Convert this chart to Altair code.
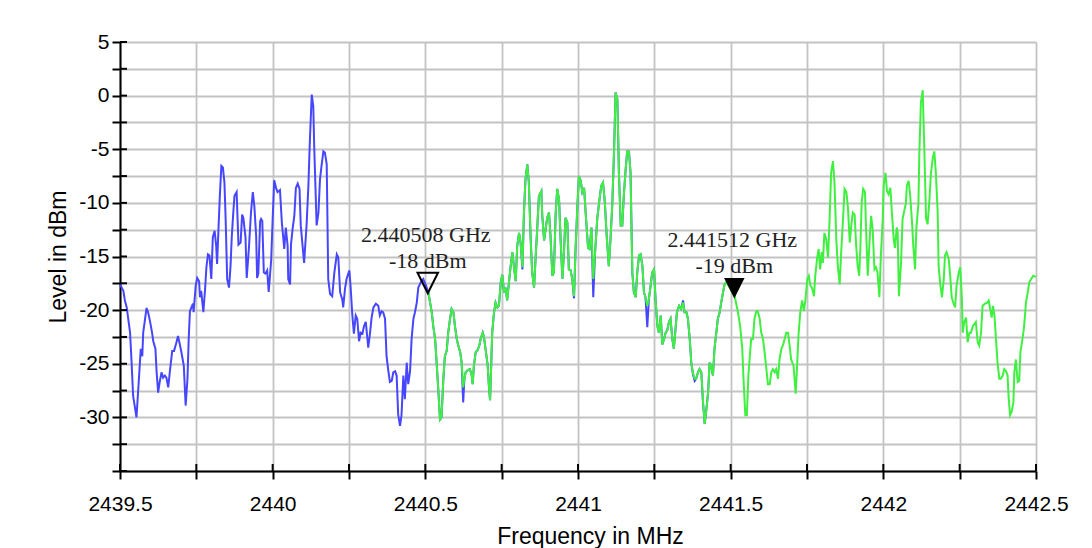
import altair as alt
import pandas as pd

# ---------------- data ----------------
blue_only_freq = [
    2439.500, 2439.511, 2439.516, 2439.522, 2439.533, 2439.538, 2439.543, 2439.554, 2439.562, 2439.568,
    2439.573, 2439.576, 2439.587, 2439.592, 2439.598, 2439.605, 2439.609, 2439.616, 2439.620, 2439.625,
    2439.630, 2439.636, 2439.641, 2439.647, 2439.652, 2439.658, 2439.663, 2439.671, 2439.677, 2439.685,
    2439.690, 2439.696, 2439.701, 2439.709, 2439.715, 2439.721, 2439.725, 2439.729, 2439.736, 2439.739,
    2439.741, 2439.748, 2439.753, 2439.759, 2439.762, 2439.766, 2439.773, 2439.779, 2439.783, 2439.788,
    2439.793, 2439.799, 2439.804, 2439.810, 2439.815, 2439.818, 2439.823, 2439.827, 2439.832, 2439.837,
    2439.842, 2439.846, 2439.851, 2439.857, 2439.862, 2439.866, 2439.871, 2439.875, 2439.882, 2439.888,
    2439.895, 2439.900, 2439.904, 2439.911, 2439.915, 2439.922, 2439.929, 2439.935, 2439.940, 2439.946,
    2439.949, 2439.953, 2439.959, 2439.962, 2439.966, 2439.971, 2439.976, 2439.982, 2439.987, 2439.995,
    2440.000, 2440.005, 2440.011, 2440.016, 2440.024, 2440.030, 2440.038, 2440.043, 2440.049, 2440.051,
    2440.057, 2440.060, 2440.065, 2440.071, 2440.076, 2440.082, 2440.088, 2440.092, 2440.103, 2440.111,
    2440.117, 2440.122, 2440.128, 2440.133, 2440.136, 2440.144, 2440.150, 2440.155, 2440.160, 2440.166,
    2440.171, 2440.177, 2440.182, 2440.188, 2440.195, 2440.202, 2440.210, 2440.215, 2440.221, 2440.228,
    2440.231, 2440.237, 2440.242, 2440.251, 2440.255, 2440.261, 2440.266, 2440.272, 2440.277, 2440.283,
    2440.288, 2440.294, 2440.299, 2440.305, 2440.313, 2440.319, 2440.324, 2440.330, 2440.338, 2440.346,
    2440.351, 2440.357, 2440.362, 2440.368, 2440.373, 2440.379, 2440.384, 2440.390, 2440.395, 2440.401,
    2440.406, 2440.411, 2440.417, 2440.422, 2440.428, 2440.433, 2440.439, 2440.444, 2440.450, 2440.455,
    2440.461, 2440.466, 2440.472, 2440.477, 2440.485, 2440.493, 2440.502,
]
blue_only_level = [
    -17.6, -18.2, -19.1, -19.75, -22.1, -24.9, -28.0, -30.0, -26.4, -23.6,
    -24.3, -22.1, -19.8, -20.2, -21.0, -22.1, -22.9, -23.6, -25.8, -27.7,
    -26.7, -25.8, -26.3, -26.1, -26.3, -27.2, -25.8, -23.8, -23.8, -23.0,
    -22.4, -23.2, -23.9, -25.2, -28.9, -26.4, -22.7, -20.1, -19.6, -19.4,
    -20.2, -17.7, -17.0, -17.3, -18.8, -18.2, -20.2, -17.9, -16.0, -14.8,
    -14.9, -17.1, -13.2, -12.6, -14.0, -15.7, -12.1, -9.35, -6.55, -6.7,
    -8.1, -11.5, -17.1, -17.9, -15.9, -13.2, -10.9, -9.35, -9.0, -13.9,
    -13.7, -11.1, -11.4, -13.2, -17.0, -14.3, -10.9, -9.0, -10.3, -13.1,
    -17.0, -16.6, -11.7, -11.5, -11.7, -16.5, -16.6, -16.3, -18.3, -15.4,
    -11.5, -7.9, -8.6, -9.0, -8.8, -11.8, -14.3, -12.3, -14.0, -17.1,
    -17.6, -13.9, -12.5, -11.2, -8.6, -8.2, -8.7, -12.1, -15.6, -12.1,
    -8.4, -4.1, 0.1, -1.0, -4.7, -12.1, -10.9, -7.8, -6.55, -5.2,
    -5.3, -6.4, -17.1, -18.5, -18.7, -16.5, -14.8, -15.1, -18.35, -19.0,
    -19.75, -18.0, -17.1, -16.3, -17.7, -20.5, -22.2, -20.5, -20.8, -22.9,
    -22.1, -22.2, -21.5, -21.1, -23.5, -22.1, -20.7, -19.75, -19.4, -19.6,
    -20.5, -20.1, -20.2, -20.8, -24.3, -25.7, -26.7, -26.6, -25.8, -25.7,
    -26.1, -29.7, -30.8, -29.8, -26.1, -28.3, -24.9, -26.9, -25.7, -22.7,
    -20.8, -20.2, -19.3, -17.9, -17.4, -17.1, -17.7,
]

overlap_freq = [
    2440.510, 2440.521, 2440.526, 2440.532, 2440.537, 2440.543, 2440.548, 2440.553, 2440.559, 2440.564,
    2440.570, 2440.575, 2440.581, 2440.586, 2440.592, 2440.597, 2440.603, 2440.608, 2440.614, 2440.619,
    2440.624, 2440.628, 2440.632, 2440.639, 2440.646, 2440.652, 2440.655, 2440.659, 2440.665, 2440.670,
    2440.677, 2440.681, 2440.688, 2440.692, 2440.698, 2440.704, 2440.708, 2440.712, 2440.716, 2440.719,
    2440.725, 2440.730, 2440.736, 2440.741, 2440.747, 2440.752, 2440.758, 2440.763, 2440.768, 2440.774,
    2440.779, 2440.785, 2440.790, 2440.796, 2440.801, 2440.807, 2440.812, 2440.818, 2440.823, 2440.828,
    2440.834, 2440.839, 2440.845, 2440.850, 2440.856, 2440.861, 2440.867, 2440.872, 2440.880, 2440.883,
    2440.889, 2440.894, 2440.899, 2440.905, 2440.910, 2440.916, 2440.921, 2440.927, 2440.932, 2440.938,
    2440.943, 2440.949, 2440.954, 2440.959, 2440.965, 2440.970, 2440.976, 2440.981, 2440.987, 2440.992,
    2440.998, 2441.003, 2441.009, 2441.014, 2441.020, 2441.025, 2441.033, 2441.038, 2441.044, 2441.050,
    2441.056, 2441.063, 2441.069, 2441.076, 2441.082, 2441.088, 2441.094, 2441.101, 2441.107, 2441.112,
    2441.118, 2441.123, 2441.129, 2441.134, 2441.140, 2441.145, 2441.150, 2441.156, 2441.161, 2441.167,
    2441.172, 2441.178, 2441.183, 2441.189, 2441.194, 2441.200, 2441.205, 2441.211, 2441.216, 2441.221,
    2441.227, 2441.232, 2441.238, 2441.243, 2441.249, 2441.254, 2441.260, 2441.265, 2441.271, 2441.276,
    2441.282, 2441.287, 2441.292, 2441.298, 2441.303, 2441.309, 2441.314, 2441.324, 2441.331, 2441.338,
    2441.344, 2441.349, 2441.355, 2441.360, 2441.366, 2441.371, 2441.376, 2441.382, 2441.387, 2441.393,
    2441.398, 2441.404, 2441.409, 2441.415, 2441.420, 2441.426, 2441.431, 2441.436, 2441.442, 2441.447,
    2441.453, 2441.458, 2441.464, 2441.469, 2441.475, 2441.480, 2441.486,
]
overlap_blue_level = [
    -18.35, -20.2, -21.5, -22.7, -24.9, -27.7, -30.2, -30.0, -26.4, -24.3,
    -23.8, -22.1, -20.8, -19.9, -20.2, -21.5, -22.7, -23.3, -23.9, -24.9,
    -28.6, -26.4, -25.8, -25.6, -25.5, -26.1, -26.9, -25.2, -23.9, -23.8,
    -23.3, -22.7, -22.1, -22.5, -23.8, -25.1, -27.0, -28.4, -24.9, -22.1,
    -20.2, -19.3, -19.75, -19.6, -17.4, -16.7, -18.35, -17.9, -19.1, -17.4,
    -16.0, -14.6, -15.9, -17.3, -14.0, -12.8, -13.7, -16.2, -10.9, -7.8,
    -6.4, -8.1, -13.4, -16.5, -17.9, -15.2, -12.1, -9.35, -8.9, -11.2,
    -13.5, -12.45, -11.4, -10.9, -13.1, -16.8, -16.5, -10.9, -8.7, -9.7,
    -13.4, -17.1, -14.6, -11.4, -11.8, -16.2, -16.3, -17.1, -18.9, -14.3,
    -10.3, -7.5, -7.95, -9.0, -8.6, -10.9, -14.2, -14.3, -12.3, -18.8,
    -14.6, -11.5, -10.0, -8.4, -8.1, -10.0, -13.1, -15.9, -13.1, -10.3,
    -5.3, 0.3, -0.34, -7.2, -12.1, -12.1, -9.35, -6.9, -5.2, -5.2,
    -7.2, -16.5, -18.35, -18.8, -16.5, -14.9, -14.8, -15.9, -18.35, -18.8,
    -21.6, -19.0, -17.7, -16.5, -16.2, -19.0, -21.5, -22.1, -20.5, -23.2,
    -22.7, -22.1, -21.9, -21.1, -20.8, -22.7, -23.6, -20.2, -19.6, -19.9,
    -19.1, -20.2, -20.2, -20.8, -22.7, -24.9, -25.9, -26.6, -26.4, -25.8,
    -25.5, -25.8, -28.5, -30.6, -29.4, -27.7, -24.9, -25.2, -26.1, -23.6,
    -22.1, -20.8, -20.2, -19.3, -18.35, -17.6, -17.4,
]
overlap_green_level = [
    -18.35, -20.2, -21.5, -22.7, -24.9, -27.7, -30.2, -30.0, -26.4, -24.3,
    -23.8, -22.1, -20.8, -19.9, -20.2, -21.5, -22.7, -23.3, -23.9, -24.9,
    -27.2, -26.4, -25.8, -25.6, -25.5, -26.1, -26.9, -25.2, -23.9, -23.8,
    -23.3, -22.7, -22.1, -22.5, -23.8, -25.1, -27.0, -28.4, -24.9, -22.1,
    -20.2, -19.3, -19.75, -19.6, -17.4, -16.7, -18.35, -17.9, -19.1, -17.4,
    -16.0, -14.6, -15.9, -17.3, -14.0, -12.8, -13.7, -16.0, -10.9, -7.8,
    -6.4, -8.1, -13.4, -16.5, -17.9, -15.2, -12.1, -9.35, -8.9, -11.2,
    -13.5, -12.45, -11.4, -10.9, -13.1, -16.8, -16.5, -10.9, -8.7, -9.7,
    -13.4, -17.1, -14.6, -11.4, -11.8, -16.2, -16.3, -17.1, -18.7, -14.3,
    -10.3, -7.5, -7.95, -9.0, -8.6, -10.9, -14.2, -14.3, -12.3, -17.1,
    -14.6, -11.5, -10.0, -8.4, -8.1, -10.0, -13.1, -15.9, -13.1, -10.3,
    -5.3, 0.3, -0.34, -7.2, -12.1, -12.1, -9.35, -6.9, -5.2, -5.2,
    -7.2, -16.5, -18.35, -18.8, -16.5, -14.9, -14.8, -15.9, -18.35, -18.8,
    -19.6, -19.0, -17.7, -16.5, -16.2, -19.0, -21.5, -22.1, -20.5, -23.2,
    -22.7, -22.1, -21.9, -21.1, -20.8, -22.7, -23.6, -20.2, -19.6, -19.9,
    -19.3, -20.2, -20.2, -20.8, -22.7, -24.9, -25.8, -26.4, -26.4, -25.8,
    -25.5, -25.8, -28.3, -30.6, -29.4, -27.7, -24.9, -25.2, -26.1, -23.6,
    -22.1, -20.8, -20.2, -19.3, -18.35, -17.6, -17.4,
]

green_only_freq = [
    2441.497, 2441.502, 2441.513, 2441.524, 2441.531, 2441.538, 2441.542, 2441.548, 2441.553, 2441.558,
    2441.562, 2441.567, 2441.573, 2441.578, 2441.584, 2441.589, 2441.595, 2441.600, 2441.606, 2441.611,
    2441.617, 2441.622, 2441.628, 2441.633, 2441.638, 2441.644, 2441.649, 2441.655, 2441.660, 2441.666,
    2441.671, 2441.677, 2441.682, 2441.688, 2441.693, 2441.698, 2441.706, 2441.713, 2441.717, 2441.722,
    2441.728, 2441.734, 2441.740, 2441.745, 2441.751, 2441.756, 2441.761, 2441.766, 2441.773, 2441.777,
    2441.783, 2441.788, 2441.793, 2441.798, 2441.802, 2441.807, 2441.813, 2441.819, 2441.824, 2441.829,
    2441.835, 2441.840, 2441.846, 2441.851, 2441.857, 2441.862, 2441.868, 2441.873, 2441.879, 2441.884,
    2441.890, 2441.895, 2441.900, 2441.906, 2441.911, 2441.916, 2441.921, 2441.925, 2441.929, 2441.934,
    2441.940, 2441.943, 2441.949, 2441.954, 2441.960, 2441.965, 2441.971, 2441.976, 2441.981, 2441.987,
    2441.992, 2441.998, 2442.001, 2442.007, 2442.012, 2442.017, 2442.023, 2442.028, 2442.034, 2442.038,
    2442.044, 2442.047, 2442.051, 2442.058, 2442.063, 2442.069, 2442.074, 2442.077, 2442.083, 2442.088,
    2442.094, 2442.098, 2442.104, 2442.108, 2442.115, 2442.118, 2442.123, 2442.129, 2442.134, 2442.140,
    2442.145, 2442.151, 2442.156, 2442.162, 2442.167, 2442.172, 2442.178, 2442.181, 2442.187, 2442.192,
    2442.198, 2442.202, 2442.207, 2442.214, 2442.219, 2442.224, 2442.229, 2442.235, 2442.240, 2442.247,
    2442.252, 2442.257, 2442.260, 2442.265, 2442.271, 2442.276, 2442.282, 2442.287, 2442.293, 2442.298,
    2442.303, 2442.309, 2442.314, 2442.320, 2442.325, 2442.333, 2442.340, 2442.345, 2442.350, 2442.355,
    2442.359, 2442.364, 2442.369, 2442.374, 2442.380, 2442.385, 2442.391, 2442.396, 2442.402, 2442.407,
    2442.410, 2442.415, 2442.420, 2442.426, 2442.429, 2442.434, 2442.440, 2442.445, 2442.449, 2442.454,
    2442.460, 2442.464, 2442.467, 2442.473, 2442.478, 2442.484, 2442.491, 2442.500,
]
green_only_level = [
    -17.9, -18.2, -18.7, -20.2, -21.5, -23.6, -26.4, -29.8, -29.8, -26.1,
    -24.6, -22.7, -22.7, -20.8, -20.1, -20.1, -20.8, -22.1, -22.7, -23.9,
    -25.5, -26.9, -26.9, -25.8, -25.5, -25.8, -25.5, -26.4, -24.6, -23.6,
    -23.3, -22.7, -22.1, -22.1, -23.3, -24.6, -25.2, -27.8, -25.5, -22.4,
    -20.2, -19.1, -20.1, -19.0, -17.1, -16.8, -17.7, -17.9, -18.7, -16.8,
    -15.2, -14.3, -16.2, -14.6, -15.6, -12.8, -13.4, -15.1, -11.5, -7.2,
    -6.1, -8.1, -13.4, -15.9, -17.6, -14.6, -11.5, -8.7, -9.0, -10.4,
    -13.7, -12.1, -10.9, -11.1, -14.0, -15.9, -16.8, -14.0, -10.0, -8.7,
    -9.0, -12.1, -16.8, -14.0, -11.2, -12.45, -16.2, -16.0, -16.5, -18.8,
    -14.9, -11.5, -8.4, -7.2, -8.9, -9.2, -8.6, -10.9, -13.4, -14.2,
    -12.3, -12.8, -18.7, -15.6, -11.5, -10.7, -10.0, -8.4, -7.95, -9.35,
    -11.8, -14.0, -16.2, -12.45, -10.0, -5.3, -0.65, 0.5, -4.7, -11.5,
    -12.0, -9.7, -7.2, -5.8, -5.2, -7.2, -10.9, -15.9, -17.7, -18.8,
    -17.1, -14.9, -14.6, -15.2, -16.8, -18.8, -19.3, -19.75, -17.7, -16.5,
    -16.0, -18.7, -22.1, -21.1, -20.7, -23.0, -22.1, -22.1, -21.5, -21.3,
    -21.1, -23.0, -23.3, -22.1, -19.6, -19.4, -19.3, -19.1, -19.9, -20.7,
    -19.6, -20.5, -22.7, -24.9, -26.4, -26.4, -26.1, -25.5, -25.7, -26.1,
    -28.0, -29.8, -29.5, -28.6, -25.8, -24.6, -26.7, -26.6, -23.9, -23.0,
    -21.8, -20.5, -19.3, -18.35, -17.4, -17.1, -16.8, -16.9,
]

marker_freq = [2440.508, 2441.512]
marker_level = [-18.4, -18.9]
marker_freq_text = ["2.440508 GHz", "2.441512 GHz"]
marker_level_text = ["-18 dBm", "-19 dBm"]
marker_index = [0, 1]

x_tick_values = [2439.5, 2439.75, 2440.0, 2440.25, 2440.5, 2440.75, 2441.0,
                 2441.25, 2441.5, 2441.75, 2442.0, 2442.25, 2442.5]
y_tick_values = [-35, -32.5, -30, -27.5, -25, -22.5, -20, -17.5, -15, -12.5,
                 -10, -7.5, -5, -2.5, 0, 2.5, 5]

# ---------------- tables ----------------
blue_df = pd.DataFrame({"freq": blue_only_freq + overlap_freq,
                        "level": blue_only_level + overlap_blue_level})
green_df = pd.DataFrame({"freq": overlap_freq + green_only_freq,
                         "level": overlap_green_level + green_only_level})
marker_df = pd.DataFrame({"freq": marker_freq, "level": marker_level,
                          "ftext": marker_freq_text, "ltext": marker_level_text,
                          "idx": marker_index})
xtick_df = pd.DataFrame({"freq": x_tick_values})
ytick_df = pd.DataFrame({"level": y_tick_values})

x_scale = alt.Scale(domain=[2439.5, 2442.5], nice=False, zero=False)
y_scale = alt.Scale(domain=[-35, 5], nice=False, zero=False)

x_axis = alt.Axis(
    values=x_tick_values, title="Frequency in MHz",
    labelExpr="abs(datum.value * 2 - round(datum.value * 2)) < 0.001 ? '' + datum.value : ''",
    labelPadding=14, titlePadding=11, titleX=470, labelFlush=False, labelOverlap=False,
)
y_axis = alt.Axis(
    values=y_tick_values, title="Level in dBm",
    labelExpr="(datum.value % 5 == 0 && datum.value > -35) ? '' + datum.value : ''",
    labelPadding=3, titlePadding=8, labelFlush=False, labelOverlap=False,
)

X = alt.X("freq:Q", scale=x_scale, axis=x_axis)
Y = alt.Y("level:Q", scale=y_scale, axis=y_axis)

blue_line = alt.Chart(blue_df).mark_line(color="#4646ff", strokeWidth=2).encode(x=X, y=Y)
green_line = alt.Chart(green_df).mark_line(color="#40f040", strokeWidth=2).encode(x=X, y=Y)

# inward halves of the crossing ticks
y_inner_ticks = alt.Chart(ytick_df).mark_rule(color="black", strokeWidth=2, x2Offset=7).encode(
    x=alt.XDatum(2439.5, scale=x_scale, axis=x_axis),
    x2=alt.X2Datum(2439.5),
    y=Y,
)
x_inner_ticks = alt.Chart(xtick_df).mark_rule(color="black", strokeWidth=2, y2Offset=-7).encode(
    x=X,
    y=alt.YDatum(-35, scale=y_scale, axis=y_axis),
    y2=alt.Y2Datum(-35),
)

tri = "M-1,-1L1,-1L0,1Z"
open_marker = alt.Chart(marker_df).transform_filter("datum.idx == 0").mark_point(
    shape=tri, size=420, filled=False, color="black", strokeWidth=2, opacity=1, yOffset=-10
).encode(x=X, y=Y)
solid_marker = alt.Chart(marker_df).transform_filter("datum.idx == 1").mark_point(
    shape=tri, size=420, filled=True, color="black", opacity=1, yOffset=-10
).encode(x=X, y=Y)

freq_text = alt.Chart(marker_df).mark_text(
    font="Liberation Serif", fontSize=22, color="#222222", dy=-51, dx=-2,
    baseline="alphabetic", align="center"
).encode(x=X, y=Y, text="ftext:N")
level_text = alt.Chart(marker_df).mark_text(
    font="Liberation Serif", fontSize=22, color="#222222", dy=-25,
    baseline="alphabetic", align="center"
).encode(x=X, y=Y, text="ltext:N")

chart = alt.layer(
    blue_line, green_line, y_inner_ticks, x_inner_ticks,
    open_marker, solid_marker, freq_text, level_text
).properties(
    width=916, height=429,
    padding={"left": 39, "top": 23, "right": 5, "bottom": 5},
).configure_view(
    stroke=None
).configure_axis(
    domainColor="black", domainWidth=2,
    tickColor="black", tickWidth=2, tickSize=8,
    grid=True, gridColor="#c3c3c3", gridWidth=1.8, gridOpacity=1,
    labelFont="Liberation Sans", labelFontSize=21, labelColor="black",
    titleFont="Liberation Sans", titleFontSize=23, titleFontWeight="normal", titleColor="black",
)

chart.save("out.html", embed_options={"renderer": "svg", "actions": False})
